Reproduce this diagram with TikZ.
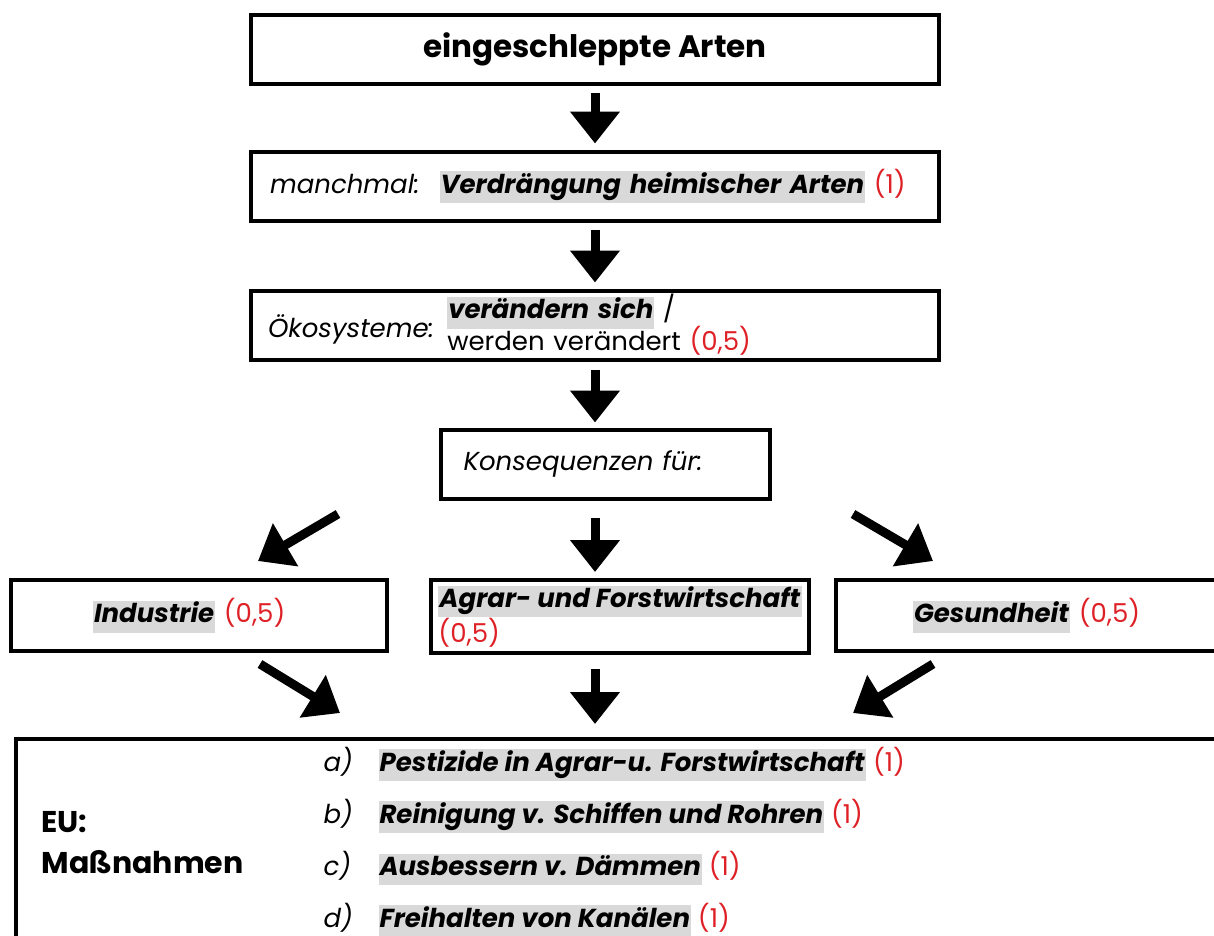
\documentclass[tikz,border=0pt]{standalone}
\usepackage{fontspec}
\setmainfont{Poppins}
\usepackage{tikz}
\usetikzlibrary{positioning,arrows.meta}

\definecolor{hlgray}{RGB}{217,217,217}
\definecolor{ptred}{RGB}{222,33,38}
\newcommand{\hl}[1]{{\setlength{\fboxsep}{1pt}\colorbox{hlgray}{\strut\textbf{\textit{#1}}}}}
\newcommand{\pts}[1]{\textcolor{ptred}{#1}}

\tikzset{
	stepbox/.style={draw, line width=4pt, minimum height=69pt, inner sep=0pt,
		font=\fontsize{26}{29}\selectfont},
	bigarrow/.style={line width=9pt, -{Triangle[width=48pt,length=32pt]}}
}

\begin{document}
\begin{tikzpicture}[x=1pt,y=1pt,node distance=64pt]
		\clip (0,0) rectangle (1214,-935);

		\node[stepbox,
			minimum width=688pt,
			font=\fontsize{31}{36}\selectfont\bfseries
		] (arten) at (595,-49) {eingeschleppte Arten};

		\node[stepbox,
			below=of arten,
			minimum width=688pt,
			text width=650pt,
			align=left
		] (verdr) {\textit{manchmal:}\hspace{20pt}\hl{Verdrängung heimischer Arten} \pts{(1)}};

		\node[stepbox,
			below=66pt of verdr,
			minimum width=688pt,
			text width=654pt,
			align=left
		] (oeko) {\textit{Ökosysteme:} \raisebox{6pt}{\parbox[c]{420pt}{\hl{verändern sich} /\\[-3pt]werden verändert \pts{(0,5)}}}};

		\node[stepbox,
			below=66pt of oeko,
			xshift=10pt,
			minimum width=329pt,
			text width=283pt,
			align=left
		] (konseq) {\textit{Konsequenzen für:}};

		\node[stepbox,
			minimum width=376pt,
			minimum height=71pt,
			text width=212pt,
			align=left
		] (industrie) at (199,-615.5) {\hl{Industrie} \pts{(0,5)}};

		\node[stepbox,
			minimum width=378pt,
			minimum height=73pt,
			align=left
		] (agrar) at (620,-616.5) {\hl{Agrar- und Forstwirtschaft}\\\pts{(0,5)}};

		\node[stepbox,
			minimum width=384pt,
			minimum height=71pt,
			text width=230pt,
			align=left
		] (gesund) at (1028,-615.5) {\hl{Gesundheit} \pts{(0,5)}};

		\node[draw,
			line width=4pt,
			anchor=north west,
			minimum width=1250pt,
			minimum height=260pt
		] (massn) at (14,-737) {};

		\node[anchor=west,
			align=left,
			font=\fontsize{30}{41}\selectfont\bfseries
		] (eu) at (38,-843) {EU:\\Maßnahmen};

		\node[anchor=base west, font=\fontsize{26}{29}\selectfont] (ma) at (320,-771)
			{\makebox[55pt][l]{\textit{a)}}\hl{Pestizide in Agrar-u. Forstwirtschaft} \pts{(1)}};
		\node[anchor=base west, font=\fontsize{26}{29}\selectfont] (mb) at (320,-823)
			{\makebox[55pt][l]{\textit{b)}}\hl{Reinigung v. Schiffen und Rohren} \pts{(1)}};
		\node[anchor=base west, font=\fontsize{26}{29}\selectfont] (mc) at (320,-875)
			{\makebox[55pt][l]{\textit{c)}}\hl{Ausbessern v. Dämmen} \pts{(1)}};
		\node[anchor=base west, font=\fontsize{26}{29}\selectfont] (md) at (320,-927)
			{\makebox[55pt][l]{\textit{d)}}\hl{Freihalten von Kanälen} \pts{(1)}};

		% free ends of the slanted arrows
		\coordinate (k-left) at (338,-514);
		\coordinate (i-top) at (258,-561);
		\coordinate (k-right) at (853,-514);
		\coordinate (g-top) at (933,-561);
		\coordinate (i-bot) at (260,-664);
		\coordinate (m-left) at (340,-713);
		\coordinate (g-bot) at (933,-664);
		\coordinate (m-right) at (853,-713);

		\draw[bigarrow, shorten <=7pt, shorten >=6pt] (arten) -- (verdr);
		\draw[bigarrow, shorten <=7pt, shorten >=6pt] (verdr) -- (oeko);
		\draw[bigarrow, shorten <=8pt, shorten >=5pt] (oeko) -- (oeko |- konseq.north);
		\draw[bigarrow, shorten <=17pt, shorten >=6pt] (oeko |- konseq.south) -- (oeko |- agrar.north);
		\draw[bigarrow, shorten <=14pt, shorten >=13pt] (oeko |- agrar.south) -- (oeko |- massn.north);
		\draw[bigarrow] (k-left) -- (i-top);
		\draw[bigarrow] (k-right) -- (g-top);
		\draw[bigarrow] (i-bot) -- (m-left);
		\draw[bigarrow] (g-bot) -- (m-right);

	\end{tikzpicture}
\end{document}
